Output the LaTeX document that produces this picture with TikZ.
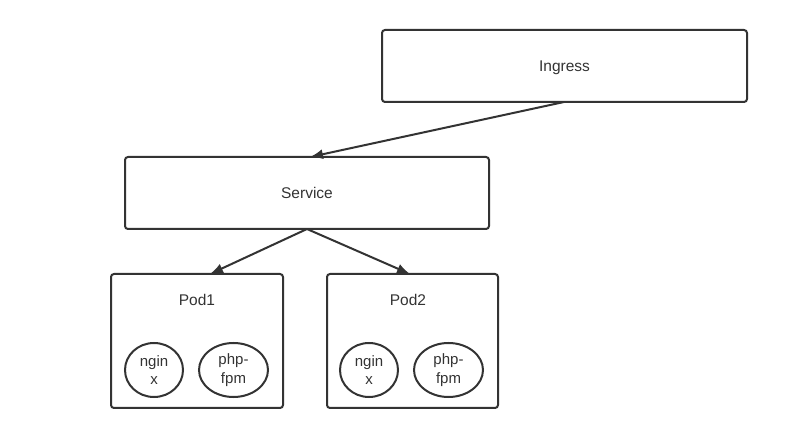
\documentclass[tikz,border=0pt]{standalone}
\usepackage{fontspec}
\setmainfont{Liberation Sans}
\usetikzlibrary{arrows.meta,shapes.geometric}
\definecolor{ink}{HTML}{333333}
\begin{document}
\begin{tikzpicture}[x=1pt,y=-1pt,
  box/.style={draw=ink,line width=2pt,rounded corners=3pt,inner sep=0pt},
  oval/.style={draw=ink,line width=2pt,ellipse,inner sep=0pt,align=center,font=\fontsize{15}{18.5}\selectfont,text=ink},
  lbl/.style={font=\fontsize{15.5}{18}\selectfont,text=ink},
  arr/.style={draw=ink,line width=2pt,-{Latex[length=13pt,width=10pt]}}]
\useasboundingbox (0,0) rectangle (812,430);
\node[box,minimum width=365pt,minimum height=72pt] (ing) at (564.5,66) {};
\node[lbl] at ([yshift=-2pt]ing.center) {Ingress};
\node[box,minimum width=364pt,minimum height=72pt] (svc) at (307,193) {};
\node[lbl] at (svc.center) {Service};
\node[box,minimum width=172pt,minimum height=134pt] (p1) at (197,341) {};
\node[box,minimum width=171pt,minimum height=134pt] (p2) at (412.5,341) {};
\node[lbl] (p1l) at (197,300) {Pod1};
\node[lbl] (p2l) at (408,300) {Pod2};
\node[oval,minimum width=58pt,minimum height=54pt] (n1) at (154,370) {ngin\\x};
\node[oval,minimum width=69pt,minimum height=54pt] (f1) at (233.5,370) {php-\\fpm};
\node[oval,minimum width=58pt,minimum height=54pt] (n2) at (369,370) {ngin\\x};
\node[oval,minimum width=69pt,minimum height=54pt] (f2) at (448.5,370) {php-\\fpm};
\coordinate (ib) at (564,102);
\coordinate (st) at (310,157);
\coordinate (sb) at (307,229);
\coordinate (p1t) at (210,274);
\coordinate (p2t) at (410,274);
\draw[arr] (ib) -- (st);
\draw[arr] (sb) -- (p1t);
\draw[arr] (sb) -- (p2t);
\end{tikzpicture}
\end{document}
